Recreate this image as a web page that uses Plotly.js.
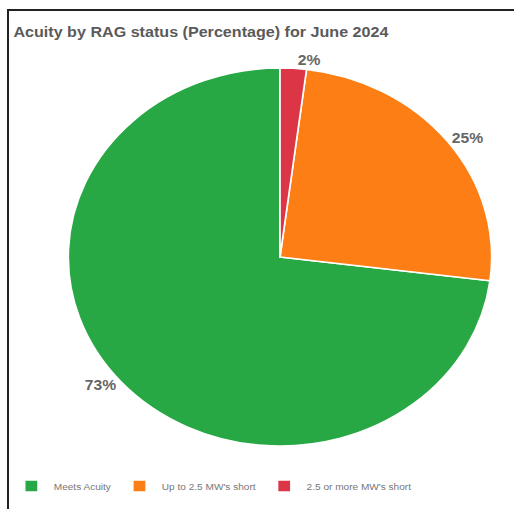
<!DOCTYPE html>
<html>
<head>
<meta charset="utf-8">
<script src="https://cdn.plot.ly/plotly-3.0.1.min.js"></script>
<style>
  html, body { margin: 0; padding: 0; background: #fff; overflow: hidden; }
  #frame { position: absolute; left: 7px; top: 9px; width: 540px; height: 540px;
           border-top: 2px solid #222; border-left: 2px solid #222; }
  #chart { position: absolute; left: 0; top: 0; width: 459px; height: 509px;
           transform: scaleX(1.12); transform-origin: 0 0; }
</style>
</head>
<body>
<div id="frame"></div>
<div id="chart"></div>
<script>
const categories = ["Meets Acuity", "Up to 2.5 MW's short", "2.5 or more MW's short"];
const percentValues = [73, 25, 2];
const sliceColors = ["#28a745", "#fd7e14", "#dc3545"];
const chartTitle = "Acuity by RAG status (Percentage) for June 2024";

const W = 459, H = 509;
const cx = 250, cy = 257, r = 189;

// first slice (drawn counterclockwise) ends where the others begin, so the
// smaller slices run clockwise from 12 o'clock
const total = percentValues.reduce((a, b) => a + b, 0);
const rot = 360 * (total - percentValues[0]) / total;

const data = [{
  type: 'pie',
  labels: categories,
  values: percentValues,
  sort: false,
  direction: 'counterclockwise',
  rotation: rot,
  marker: { colors: sliceColors, line: { color: '#ffffff', width: 1.5 } },
  textposition: 'outside',
  texttemplate: '%{value}%',
  textfont: { family: 'Liberation Sans, Arial, sans-serif', size: 14, color: '#666666', weight: 'bold' },
  hoverinfo: 'label+percent',
  domain: { x: [(cx - r) / W, (cx + r) / W], y: [1 - (cy + r) / H, 1 - (cy - r) / H] }
}];

const layout = {
  width: W, height: H,
  margin: { l: 0, r: 0, t: 0, b: 0 },
  paper_bgcolor: 'rgba(0,0,0,0)',
  plot_bgcolor: 'rgba(0,0,0,0)',
  font: { family: 'Liberation Sans, Arial, sans-serif', color: '#666666' },
  title: {
    text: '<b>' + chartTitle + '</b>',
    x: 12 / W, xref: 'container', xanchor: 'left',
    y: 1 - 32 / H, yref: 'container', yanchor: 'middle',
    font: { family: 'Liberation Sans, Arial, sans-serif', size: 14.4, color: '#5a5a5a' }
  },
  showlegend: true,
  legend: {
    orientation: 'h',
    x: 8 / W, xanchor: 'left',
    y: 1 - 486 / H, yanchor: 'middle',
    font: { size: 9, color: '#777777' },
    bgcolor: 'rgba(0,0,0,0)'
  }
};

Plotly.newPlot('chart', data, layout, { displayModeBar: false, staticPlot: true });
</script>
</body>
</html>
